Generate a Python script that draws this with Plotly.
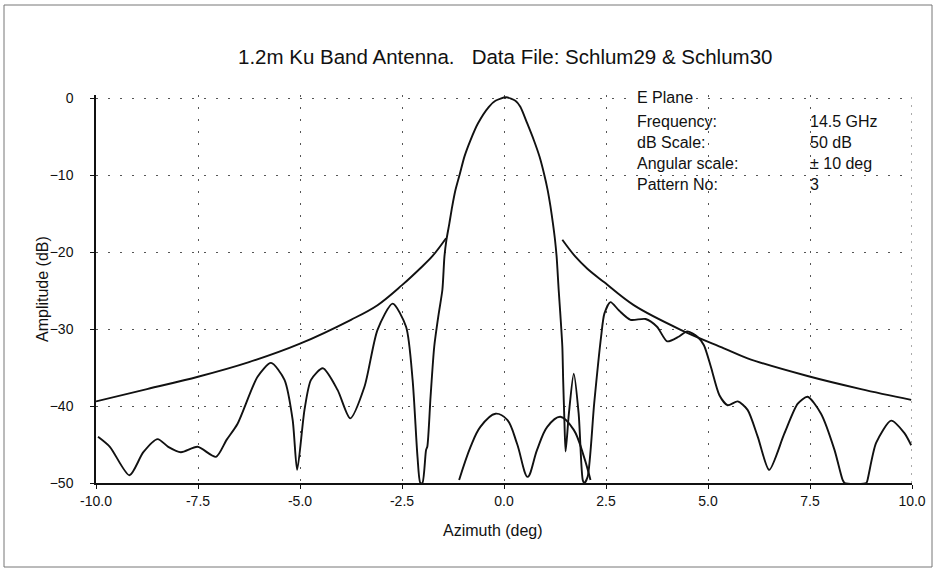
import plotly.graph_objects as go

# Main measured pattern (Schlum29)
pattern_x = [-9.95, -9.66, -9.18, -8.84, -8.49, -8.23, -7.92, -7.51, -7.06, -6.80, -6.53, -6.04, -5.71,
             -5.38, -5.18, -5.07, -4.89, -4.73, -4.44, -4.08, -3.77, -3.42, -3.10, -2.73, -2.40, -2.24,
             -2.12, -2.05, -2.00, -1.91, -1.88, -1.80, -1.71, -1.60, -1.51, -1.46, -1.41, -1.34, -1.27,
             -1.19, -1.08, -0.97, -0.82, -0.64, -0.37, -0.21, 0.05, 0.28, 0.40, 0.57, 0.73, 0.87, 0.98,
             1.07, 1.14, 1.20, 1.25, 1.29, 1.34, 1.38, 1.43, 1.45, 1.48, 1.51, 1.59, 1.71, 1.83, 1.93,
             1.97, 2.05, 2.21, 2.38, 2.46, 2.61, 2.82, 3.10, 3.47, 3.75, 4.00, 4.28, 4.49, 4.74, 4.90,
             5.07, 5.28, 5.48, 5.73, 5.97, 6.22, 6.50, 6.87, 7.20, 7.44, 7.77, 8.10, 8.30, 8.35, 8.88,
             8.91, 9.12, 9.49, 9.81, 9.98]
pattern_db = [-44.0, -45.3, -49.0, -46.0, -44.3, -45.3, -46.0, -45.3, -46.6, -44.4, -42.3, -36.2, -34.4,
              -36.6, -41.8, -48.3, -40.5, -36.6, -35.1, -37.9, -41.6, -37.5, -30.1, -26.7, -29.7, -36.6,
              -46.6, -50.0, -50.0, -45.7, -45.3, -38.8, -32.3, -28.0, -24.9, -20.6, -18.4, -16.3, -14.1,
              -11.95, -9.8, -7.6, -5.45, -3.3, -1.13, -0.35, 0.1, -0.35, -1.13, -3.3, -5.45, -7.6, -9.8,
              -11.95, -14.1, -16.3, -18.4, -20.6, -24.9, -28.0, -32.3, -36.6, -41.8, -45.9, -41.0, -35.8, -41.0, -49.6,
              -50.0, -49.2, -39.7, -31.0, -28.0, -26.5, -27.6, -28.8, -28.7, -29.7, -31.6, -31.0, -30.3, -31.0, -32.1,
              -34.9, -38.6, -39.9, -39.4, -40.5, -44.0, -48.3, -43.6, -39.7, -38.8, -41.0, -45.7, -49.6, -50.0, -50.0,
              -49.6, -44.8, -41.9, -43.5, -45.1]

# Second data file (Schlum30), low-level lobes near boresight
second_x = [-1.10, -0.82, -0.58, -0.21, 0.08, 0.32, 0.58, 0.81, 1.06, 1.38, 1.71, 1.96, 2.12]
second_db = [-49.6, -45.3, -42.7, -41.0, -41.8, -44.9, -49.2, -45.7, -42.7, -41.4, -43.1, -46.6, -49.6]

# Sidelobe envelope (left and right segments)
env_left_x = [-10.0, -8.75, -7.5, -6.25, -5.0, -3.75, -3.1, -2.5, -2.05, -1.75, -1.42]
env_left_db = [-39.4, -37.8, -36.2, -34.3, -31.9, -28.8, -26.9, -24.3, -22.1, -20.5, -18.2]
env_right_x = [1.43, 1.75, 2.05, 2.45, 3.18, 4.33, 5.39, 5.97, 7.44, 8.75, 9.98]
env_right_db = [-18.4, -20.6, -22.2, -23.9, -26.9, -30.1, -32.5, -33.8, -36.1, -37.8, -39.2]

x_ticks = [-10.0, -7.5, -5.0, -2.5, 0.0, 2.5, 5.0, 7.5, 10.0]
x_tick_labels = ["-10.0", "-7.5", "-5.0", "-2.5", "0.0", "2.5", "5.0", "7.5", "10.0"]
y_ticks = [0, -10, -20, -30, -40, -50]

title_text = "1.2m Ku Band Antenna.   Data File: Schlum29 & Schlum30"
info_labels = ["E Plane", "Frequency:", "dB Scale:", "Angular scale:", "Pattern No:"]
info_values = ["", "14.5 GHz", "50 dB", "± 10 deg", "3"]

FONT = "Liberation Sans, Arial, sans-serif"
line_style = dict(color="#111111", width=1.9)

# plot area: x 96..912 px, y 95..483 px (y=0 dB at ~98 px)
L, R, T, B = 96, 25, 95, 87
W, H = 937, 570
PW, PH = W - L - R, H - T - B


def px_to_paper(px, py):
    return (px - L) / PW, (H - B - py) / PH


info_py = [97, 121, 142, 163, 184]

fig = go.Figure()
fig.add_trace(go.Scatter(x=env_left_x, y=env_left_db, mode="lines", line=line_style, line_shape="spline"))
fig.add_trace(go.Scatter(x=env_right_x, y=env_right_db, mode="lines", line=line_style, line_shape="spline"))
fig.add_trace(go.Scatter(x=second_x, y=second_db, mode="lines", line=line_style, line_shape="spline"))
fig.add_trace(go.Scatter(x=pattern_x, y=pattern_db, mode="lines", line=line_style,
                         line_shape="spline", line_smoothing=0.7))

annotations = []
tx, ty = px_to_paper(505, 57)
annotations.append(dict(text=title_text, xref="paper", yref="paper", x=tx, y=ty,
                        showarrow=False, xanchor="center", yanchor="middle",
                        font=dict(family=FONT, size=20.5, color="#111")))
for i, (lab, val, py) in enumerate(zip(info_labels, info_values, info_py)):
    ax, ay = px_to_paper(635, py)
    annotations.append(dict(text=lab, x=ax, y=ay, xref="paper", yref="paper", showarrow=False,
                            xanchor="left", yanchor="middle",
                            bgcolor="white" if i == 0 else "rgba(0,0,0,0)",
                            font=dict(family=FONT, size=16, color="#111")))
    if val:
        vx, _ = px_to_paper(808, py)
        annotations.append(dict(text=val, x=vx, y=ay, xref="paper", yref="paper", showarrow=False,
                                xanchor="left", yanchor="middle",
                                font=dict(family=FONT, size=16, color="#111")))
yx, yy = px_to_paper(42, 289)
annotations.append(dict(text="Amplitude (dB)", xref="paper", yref="paper", x=yx, y=yy,
                        textangle=-90, showarrow=False, xanchor="center", yanchor="middle",
                        font=dict(family=FONT, size=16, color="#111")))
xx, xy = px_to_paper(493, 530)
annotations.append(dict(text="Azimuth (deg)", xref="paper", yref="paper", x=xx, y=xy,
                        showarrow=False, xanchor="center", yanchor="middle",
                        font=dict(family=FONT, size=16, color="#111")))

fx0, fy0 = px_to_paper(4, 567)
fx1, fy1 = px_to_paper(932, 5)
fig.update_layout(
    width=W, height=H,
    margin=dict(l=L, r=R, t=T, b=B),
    paper_bgcolor="white", plot_bgcolor="white",
    showlegend=False,
    annotations=annotations,
    shapes=[dict(type="rect", xref="paper", yref="paper", x0=fx0, x1=fx1, y0=fy0, y1=fy1,
                 line=dict(color="#777", width=1)),
            dict(type="line", xref="x", yref="paper", x0=10, x1=10, y0=0, y1=1,
                 line=dict(color="#555", width=1, dash="2px,6px"))],
)
fig.update_xaxes(range=[-10, 10], tickvals=x_ticks, ticktext=x_tick_labels,
                 showline=True, linecolor="#111", linewidth=1.5, mirror=False,
                 ticks="outside", ticklen=4, tickcolor="#111",
                 showgrid=True, gridcolor="#555", gridwidth=1, griddash="2px,10px",
                 zeroline=False, tickfont=dict(family=FONT, size=14, color="#111"))
fig.update_yaxes(range=[-50, 0.4], tickvals=y_ticks,
                 showline=True, linecolor="#111", linewidth=1.5,
                 ticks="outside", ticklen=4, tickcolor="#111", ticklabelstandoff=14,
                 showgrid=True, gridcolor="#555", gridwidth=1, griddash="2px,10px",
                 zeroline=False, tickfont=dict(family=FONT, size=14, color="#111"))

fig.write_html("out.html")
